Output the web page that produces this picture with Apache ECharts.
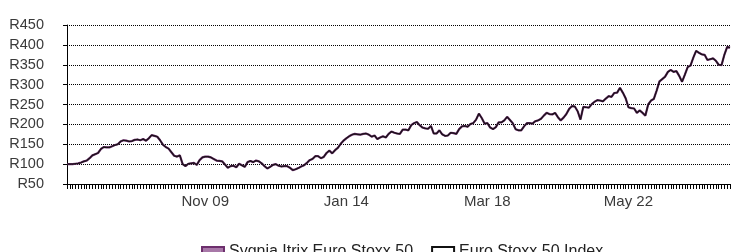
<!DOCTYPE html>
<html>
	<head>
		<meta charset="utf-8">
		<title>Sygnia Itrix Euro Stoxx 50</title>
		<script src="https://cdn.jsdelivr.net/npm/echarts@6/dist/echarts.min.js"></script>
		<style>
			html, body { margin: 0; padding: 0; background: #fff; }
			#chart { width: 731px; height: 252px; }
		</style>
	</head>
	<body>
		<div id="chart"></div>
		<script type="text/javascript">
			// monthly points, Oct 05 .. May 25
			var monthNames = ['Jan','Feb','Mar','Apr','May','Jun','Jul','Aug','Sep','Oct','Nov','Dec'];
			var startYear = 2005, startMonth = 9, pointCount = 236;
			var shownLabels = ['Nov 09', 'Jan 14', 'Mar 18', 'May 22'];

			var sygnia = [
				100,100,100,101,102,104,107,109,115,122,125,128,138,143,142,142,145,148,150,157,
				160,159,157,158,161,162,160,163,159,165,173,171,169,160,149,143,139,130,121,119,
				122,100,95,101,102,103,98,110,117,119,119,117,113,109,108,107,99,91,95,96,
				92,101,97,93,105,108,105,109,107,102,95,89,93,98,100,96,94,95,95,91,
				85,87,90,94,97,103,110,113,120,120,115,118,128,134,127,135,141,151,159,165,
				170,174,176,175,174,176,177,174,169,172,163,167,170,167,176,182,179,177,176,187,
				187,185,198,203,206,198,192,190,189,196,177,177,185,175,171,172,179,178,176,188,
				195,196,194,201,203,212,227,216,202,203,192,188,193,205,205,210,219,211,203,188,
				185,185,195,203,203,202,208,210,214,222,229,226,225,229,218,210,217,226,239,246,
				245,233,212,244,243,242,251,257,261,260,258,265,271,269,279,280,292,280,266,243,
				241,240,229,235,229,222,250,260,264,285,308,314,320,332,337,332,334,322,307,325,
				344,348,368,385,380,376,375,362,364,366,360,350,349,375,395,393
			];
			var euroStoxx = [
				100,100,100,101,102,104,107,109,115,122,125,128,138,143,142,142,145,148,150,157,
				160,159,157,158,161,162,160,163,159,165,173,171,169,160,149,143,139,130,121,119,
				122,100,95,101,102,103,98,110,117,119,119,117,113,109,108,107,99,91,95,96,
				92,101,97,93,105,108,105,109,107,102,95,89,93,98,100,96,94,95,95,91,
				85,87,90,94,97,103,110,113,120,120,115,118,128,134,127,135,141,151,159,165,
				170,174,176,175,174,176,177,174,169,172,163,167,170,167,176,182,179,177,176,187,
				187,185,198,203,206,198,192,190,189,196,177,177,185,175,171,172,179,178,176,188,
				195,196,194,201,203,212,227,216,202,203,192,188,193,205,205,210,219,211,203,188,
				185,185,195,203,203,202,208,210,214,222,229,226,225,229,218,210,217,226,239,246,
				245,233,212,244,243,242,251,257,261,260,258,265,271,269,279,280,292,280,266,243,
				241,240,229,235,229,222,250,260,264,285,308,314,320,332,337,332,334,322,307,325,
				344,348,368,385,380,376,375,362,364,366,360,350,349,375,395,393
			];

			var months = [];
			for (var i = 0; i < pointCount; i++) {
				var m = (startMonth + i) % 12;
				var y = startYear + Math.floor((startMonth + i) / 12);
				months.push(monthNames[m] + ' ' + String(y % 100).padStart(2, '0'));
			}

			var chart = echarts.init(document.getElementById('chart'));
			var textColor = '#3a3a3a';
			var font = 'Liberation Sans';

			var option = {
				animation: false,
				grid: { left: 67, right: 1, top: 25, bottom: 68 },
				legend: {
					left: 196,
					top: 239,
					itemWidth: 22,
					itemHeight: 10,
					itemGap: 18,
					textStyle: { color: '#222', fontSize: 16, fontFamily: font },
					data: [
						{ name: 'Sygnia Itrix Euro Stoxx 50', icon: 'rect', itemStyle: { color: '#a878a8', borderColor: '#6d2f6d', borderWidth: 2 } },
						{ name: 'Euro Stoxx 50 Index', icon: 'rect', itemStyle: { color: '#ffffff', borderColor: '#111', borderWidth: 2 } }
					]
				},
				xAxis: {
					type: 'category',
					boundaryGap: false,
					data: months,
					axisLine: { lineStyle: { color: '#000', width: 1 } },
					axisTick: { interval: 0, length: 5, lineStyle: { color: '#000' } },
					axisLabel: {
						interval: function (idx, val) { return shownLabels.indexOf(val) >= 0; },
						margin: 10,
						color: textColor,
						fontSize: 15,
						fontFamily: font
					},
					splitLine: { show: false }
				},
				yAxis: {
					type: 'value',
					min: 50,
					max: 450,
					interval: 50,
					axisLine: { show: true, lineStyle: { color: '#000', width: 1 } },
					axisTick: { show: true, length: 4, lineStyle: { color: '#000' } },
					axisLabel: {
						formatter: 'R{value}',
						margin: 23,
						color: textColor,
						fontSize: 14.5,
						fontFamily: font
					},
					splitLine: { lineStyle: { color: '#000', type: [1, 1], width: 1 } }
				},
				series: [
					{
						name: 'Sygnia Itrix Euro Stoxx 50',
						type: 'line',
						data: sygnia,
						showSymbol: false,
						lineStyle: { color: '#6d2f6d', width: 2.2 },
						itemStyle: { color: '#6d2f6d' }
					},
					{
						name: 'Euro Stoxx 50 Index',
						type: 'line',
						data: euroStoxx,
						showSymbol: false,
						lineStyle: { color: '#1a1218', width: 1.3 },
						itemStyle: { color: '#111' }
					}
				]
			};
			chart.setOption(option);
		</script>
	</body>
</html>
